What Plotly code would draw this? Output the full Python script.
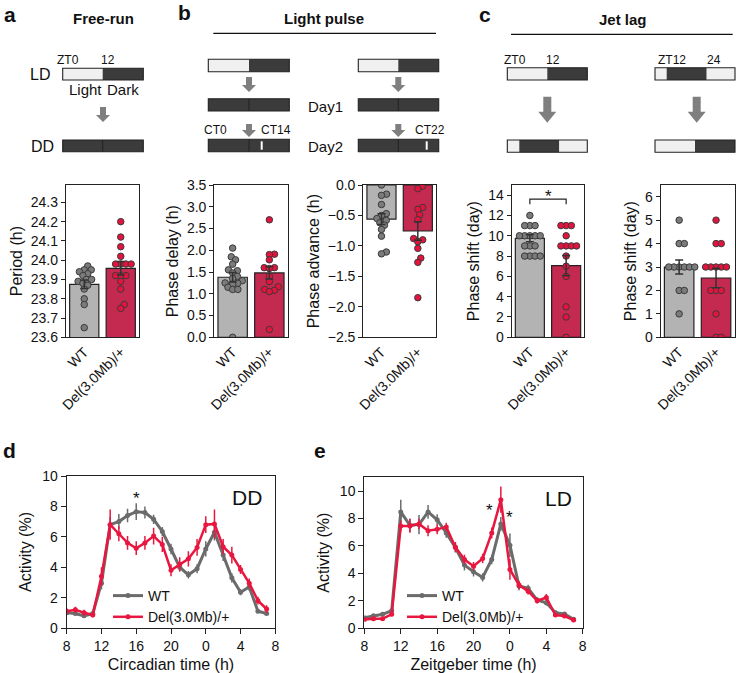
import math
import plotly.graph_objects as go

W, H = 736, 673
FONT = "Liberation Sans, Arial, Helvetica, sans-serif"
AX = "#222222"

# ---------------- data ----------------
groups = ["WT", "Del(3.0Mb)/+"]

# a: free-run period (h)
period_wt = [23.97, 23.95, 23.95, 23.94, 23.93, 23.92, 23.90, 23.90, 23.89, 23.88,
             23.87, 23.85, 23.80, 23.77, 23.65]
period_del = [24.20, 24.12, 24.07, 24.02, 23.98, 23.98, 23.98, 23.98, 23.92, 23.92,
              23.92, 23.89, 23.85, 23.77, 23.75]
period_mean = [23.875, 23.958]
period_sem = [0.022, 0.035]

# b: light pulse, phase delay (h)
delay_wt = [2.05, 1.85, 1.78, 1.68, 1.55, 1.53, 1.48, 1.40, 1.35, 1.30, 1.25, 1.24,
            1.22, 1.15, 1.10, 1.10, 0.0]
delay_del = [2.70, 1.91, 1.90, 1.78, 1.60, 1.60, 1.58, 1.40, 1.28, 1.16, 1.10, 1.08,
             1.05, 0.18]
delay_mean = [1.38, 1.48]
delay_sem = [0.11, 0.14]

# b: light pulse, phase advance (h)
advance_wt = [0.0, -0.15, -0.17, -0.32, -0.47, -0.50, -0.55, -0.58, -0.62, -0.66,
              -0.73, -0.84, -1.10, -1.13]
advance_del = [-0.02, -0.06, -0.37, -0.40, -0.49, -0.57, -0.88, -0.90, -0.93, -1.04,
               -1.20, -1.27, -1.85]
advance_mean = [-0.56, -0.755]
advance_sem = [0.09, 0.15]

# c: jet lag advance (day)
jl1_wt = [12, 11, 11, 11, 10, 10, 10, 10, 10, 9, 9, 9, 8, 8, 8, 8]
jl1_del = [11, 11, 11, 10, 9, 9, 9, 9, 8, 7, 6, 3, 2, 0]
jl1_mean = [9.75, 7.05]
jl1_sem = [0.35, 1.0]

# c: jet lag delay (day)
jl2_wt = [5, 4, 4, 3, 3, 3, 3, 3, 3, 2, 2, 1]
jl2_del = [5, 4, 4, 3, 3, 3, 3, 3, 2, 2, 2, 1, 0, 0]
jl2_mean = [3.0, 2.53]
jl2_sem = [0.3, 0.42]

# d, e: activity profiles (%)
hours = [8, 9, 10, 11, 12, 13, 14, 15, 16, 17, 18, 19, 20, 21, 22, 23, 24, 25, 26,
         27, 28, 29, 30, 31]
hour_tickvals = [8, 12, 16, 20, 24, 28, 32]
hour_ticktext = ["8", "12", "16", "20", "0", "4", "8"]

dd_wt = [1.0, 0.95, 0.8, 0.95, 2.95, 6.8, 7.0, 7.4, 7.65, 7.6, 7.15, 6.35, 5.2, 4.0,
         3.5, 3.9, 5.2, 6.3, 4.8, 3.3, 2.35, 2.7, 1.1, 0.95]
dd_wt_sem = [0.1, 0.1, 0.1, 0.1, 0.4, 0.5, 0.5, 0.45, 0.55, 0.4, 0.3, 0.3, 0.35, 0.3,
             0.25, 0.3, 0.5, 0.55, 0.4, 0.3, 0.2, 0.25, 0.1, 0.1]
dd_del = [1.1, 1.2, 1.0, 0.85, 3.4, 6.8, 6.2, 5.6, 5.25, 5.6, 6.05, 5.5, 3.8, 4.2,
          4.55, 5.3, 6.8, 6.85, 5.35, 4.8, 3.85, 2.95, 1.8, 1.25]
dd_del_sem = [0.2, 0.2, 0.2, 0.15, 0.6, 1.0, 0.5, 0.45, 0.45, 0.45, 0.55, 0.5, 0.4,
              0.45, 0.5, 0.55, 0.55, 0.95, 0.5, 0.55, 0.3, 0.3, 0.25, 0.25]

ld_wt = [0.75, 0.9, 1.0, 1.26, 8.47, 7.5, 7.55, 8.47, 7.9, 6.94, 5.87, 4.59, 4.1, 3.69,
         5.0, 7.6, 6.04, 3.06, 2.9, 2.04, 1.84, 1.12, 1.02, 0.63]
ld_wt_sem = [0.1, 0.1, 0.1, 0.15, 0.9, 0.5, 0.7, 0.5, 0.4, 0.35, 0.35, 0.4, 0.35, 0.3,
             0.35, 0.5, 0.85, 0.3, 0.25, 0.2, 0.2, 0.15, 0.15, 0.1]
ld_del = [0.62, 0.68, 0.68, 1.0, 7.45, 7.45, 7.6, 7.1, 7.2, 7.38, 5.92, 5.0, 4.51, 5.07,
          6.94, 9.37, 4.27, 3.13, 2.69, 1.99, 2.23, 0.95, 0.87, 0.58]
ld_del_sem = [0.1, 0.1, 0.1, 0.15, 0.4, 0.5, 0.4, 0.4, 0.35, 0.3, 0.35, 0.35, 0.3,
              0.35, 0.4, 0.95, 0.75, 0.3, 0.25, 0.2, 0.25, 0.15, 0.12, 0.1]

# ---------------- styles ----------------
BAR_COL = ["#b3b3b3", "#c4294f"]
DOT_COL = ["#7b7b7b", "#e3133e"]
LINE_COL = ["#6b6b6b", "#e8173f"]
LIGHT = "#f0f0f0"
DARK = "#3b3b3b"
ARROW = "#7f7f7f"


def fx(x):
    return x / W


def fy(y):
    return 1 - y / H


def swarm(vals, ppu_y, ppu_x, d=5.2):
    """Beeswarm x-offsets (data units) computed from values."""
    order = sorted(range(len(vals)), key=lambda i: vals[i])
    placed = []
    offs = [0.0] * len(vals)
    for i in order:
        y = vals[i] * ppu_y
        blocks = []
        for (px, py) in placed:
            dy = abs(py - y)
            if dy < d:
                w = math.sqrt(d * d - dy * dy)
                blocks.append((px - w, px + w))
        cands = [0.0] + [b[0] for b in blocks] + [b[1] for b in blocks]
        best = 0.0
        for c in sorted(cands, key=lambda v: (abs(v), -v)):
            if all(not (lo + 1e-6 < c < hi - 1e-6) for lo, hi in blocks):
                best = c
                break
        placed.append((best, y))
        offs[i] = best / ppu_x
    return offs


fig = go.Figure()
layout = {}
annotations = []
shapes = []

boxes = {
    1: (66, 139, 185, 337.3),
    2: (214.3, 287.7, 185, 337.3),
    3: (363.3, 436, 185, 337.3),
    4: (511.7, 584.3, 185, 337.3),
    5: (660.7, 734.5, 185, 337.3),
    6: (66.7, 275.3, 476, 628),
    7: (364.4, 582.7, 477.3, 628),
}

bar_panels = [
    (1, period_wt, period_del, period_mean, period_sem, [23.6, 24.39], 0.1, 23.6, ".1f", "Period (h)"),
    (2, delay_wt, delay_del, delay_mean, delay_sem, [0, 3.5], 0.5, 0, ".1f", "Phase delay (h)"),
    (3, advance_wt, advance_del, advance_mean, advance_sem, [-2.5, 0], 0.5, -2.5, ".1f", "Phase advance (h)"),
    (4, jl1_wt, jl1_del, jl1_mean, jl1_sem, [0, 15], 2, 0, "d", "Phase shift (day)"),
    (5, jl2_wt, jl2_del, jl2_mean, jl2_sem, [0, 6.5], 1, 0, "d", "Phase shift (day)"),
]


def axname(i):
    return ("x" if i == 1 else f"x{i}"), ("y" if i == 1 else f"y{i}")


for (i, wt, dl, mean, sem, yr, dt, t0, fmt, title) in bar_panels:
    L, R, T, B = boxes[i]
    xn, yn = axname(i)
    ppu_y = (B - T) / (yr[1] - yr[0])
    ppu_x = (R - L) / 2.0
    fig.add_trace(go.Bar(x=[0, 1], y=mean, width=0.8, xaxis=xn, yaxis=yn,
                         marker=dict(color=BAR_COL, line=dict(color=AX, width=1.2)),
                         showlegend=False, hoverinfo="skip"))
    for k, vals in enumerate([wt, dl]):
        offs = swarm(vals, ppu_y, ppu_x)
        fig.add_trace(go.Scatter(x=[k + o for o in offs], y=vals, mode="markers",
                                 xaxis=xn, yaxis=yn, showlegend=False,
                                 marker=dict(size=6.5, color=DOT_COL[k],
                                             line=dict(color="#3a3a3a", width=1))))
    fig.add_trace(go.Scatter(x=[0, 1], y=mean, mode="markers", xaxis=xn, yaxis=yn,
                             showlegend=False,
                             marker=dict(size=1, color="rgba(0,0,0,0)"),
                             error_y=dict(type="data", array=sem, color="#333333",
                                          thickness=1.5, width=4)))
    layout["xaxis" if i == 1 else f"xaxis{i}"] = dict(
        domain=[fx(L), fx(R)], range=[-0.5, 1.5], tickvals=[0, 1], ticktext=groups,
        tickangle=-45, showline=True, mirror=True, linecolor=AX, linewidth=1.3,
        ticks="", showgrid=False, zeroline=False, anchor=yn,
        tickfont=dict(size=14, color="#111"))
    layout["yaxis" if i == 1 else f"yaxis{i}"] = dict(
        domain=[fy(B), fy(T)], range=yr, dtick=dt, tick0=t0, tickformat=fmt,
        showline=True, mirror=True, linecolor=AX, linewidth=1.3, ticks="outside",
        ticklen=4, tickwidth=1.3, tickcolor=AX, showgrid=False, zeroline=False,
        anchor=xn, tickfont=dict(size=14, color="#111"),
        title=dict(text=title, font=dict(size=16, color="#111"), standoff=4))

# significance bracket in c (left)
shapes.append(dict(type="path", xref="x4", yref="y4",
                   path="M 0,13.1 L 0,13.6 L 1,13.6 L 1,13.1",
                   line=dict(color=AX, width=1.2)))
annotations.append(dict(text="*", x=0.5, y=13.9, xref="x4", yref="y4", showarrow=False,
                        font=dict(size=17, color="#111")))

# ---------------- d, e activity profiles ----------------
prof = [
    (6, dd_wt, dd_wt_sem, dd_del, dd_del_sem, [0, 10], "Circadian time (h)", "legend"),
    (7, ld_wt, ld_wt_sem, ld_del, ld_del_sem, [0, 11], "Zeitgeber time (h)", "legend2"),
]
for (i, wt, wts, dl, dls, yr, xt, leg) in prof:
    L, R, T, B = boxes[i]
    xn, yn = axname(i)
    for k, (v, s, nm) in enumerate([(wt, wts, "WT"), (dl, dls, "Del(3.0Mb)/+")]):
        fig.add_trace(go.Scatter(x=hours, y=v, mode="lines+markers", name=nm,
                                 xaxis=xn, yaxis=yn, legend=leg,
                                 line=dict(color=LINE_COL[k], width=3 if k == 0 else 2.5),
                                 marker=dict(size=5, color=LINE_COL[k]),
                                 error_y=dict(type="data", array=s, color=LINE_COL[k],
                                              thickness=1.5, width=0)))
    layout[f"xaxis{i}"] = dict(
        domain=[fx(L), fx(R)], range=[8, 32], tickvals=hour_tickvals,
        ticktext=hour_ticktext, showline=True, mirror=True, linecolor=AX,
        linewidth=1.3, ticks="outside", ticklen=5, tickwidth=1.3, tickcolor=AX,
        showgrid=False, zeroline=False, anchor=yn, tickfont=dict(size=14, color="#111"),
        title=dict(text=xt, font=dict(size=16, color="#111"), standoff=6))
    layout[f"yaxis{i}"] = dict(
        domain=[fy(B), fy(T)], range=yr, dtick=2, tick0=0, showline=True, mirror=True,
        linecolor=AX, linewidth=1.3, ticks="outside", ticklen=5, tickwidth=1.3,
        tickcolor=AX, showgrid=False, zeroline=False, anchor=xn,
        tickfont=dict(size=14, color="#111"),
        title=dict(text="Activity (%)", font=dict(size=16, color="#111"), standoff=6))

# E / N / M markers above d
event_hours = [13, 18, 25]
event_labels = ["E", "N", "M"]
fig.add_trace(go.Scatter(x=event_hours, y=[10.43] * 3, mode="markers+text",
                         text=event_labels, textposition="top center",
                         textfont=dict(size=15, color="#111"),
                         marker=dict(symbol="triangle-down", size=10, color="#111"),
                         xaxis="x6", yaxis="y6", cliponaxis=False, showlegend=False))

annotations += [
    dict(text="*", x=16, y=8.5, xref="x6", yref="y6", showarrow=False, font=dict(size=17)),
    dict(text="*", x=21.8, y=8.6, xref="x7", yref="y7", showarrow=False, font=dict(size=17)),
    dict(text="*", x=24.0, y=8.1, xref="x7", yref="y7", showarrow=False, font=dict(size=17)),
]


def ann(text, x, y, size, bold=False, xanchor="center"):
    annotations.append(dict(text=f"<b>{text}</b>" if bold else text, x=fx(x), y=fy(y),
                            xref="paper", yref="paper", xanchor=xanchor, yanchor="middle",
                            showarrow=False, font=dict(size=size, color="#111")))


ann("DD", 246.7, 497, 21)
ann("LD", 558, 498, 21)

# panel letters / titles
ann("a", 10, 14, 21, True)
ann("b", 185, 12, 21, True)
ann("c", 485, 14, 21, True)
ann("d", 9, 451, 21, True)
ann("e", 320, 451, 21, True)
ann("Free-run", 103, 18, 15, True)
ann("Light pulse", 324, 18, 15, True)
ann("Jet lag", 623, 19, 15, True)


# ---------------- schematics ----------------
def rect(x0, y0, x1, y1, fill, lw=1.0, line=AX):
    shapes.append(dict(type="rect", xref="paper", yref="paper", x0=fx(x0), x1=fx(x1),
                       y0=fy(y1), y1=fy(y0), fillcolor=fill,
                       line=dict(color=line, width=lw)))


def daybar(x0, x1, y0, y1, segs, pulse=None):
    for (a, b, col) in segs:
        rect(a, y0, b, y1, col, lw=0)
    if pulse is not None:
        rect(pulse - 1, y0 + 2, pulse + 1, y1 - 2, "#ffffff", lw=0)
    rect(x0, y0, x1, y1, "rgba(0,0,0,0)", lw=1.1)


def vline(x, y0, y1):
    shapes.append(dict(type="line", xref="paper", yref="paper", x0=fx(x), x1=fx(x),
                       y0=fy(y0), y1=fy(y1), line=dict(color="#222", width=1)))


def hline(x0, x1, y):
    shapes.append(dict(type="line", xref="paper", yref="paper", x0=fx(x0), x1=fx(x1),
                       y0=fy(y), y1=fy(y), line=dict(color="#111", width=1.3)))


def arrow(xc, y0, y1, sw, hw, hh):
    pts = [(xc - sw / 2, y0), (xc + sw / 2, y0), (xc + sw / 2, y1 - hh),
           (xc + hw / 2, y1 - hh), (xc, y1), (xc - hw / 2, y1 - hh), (xc - sw / 2, y1 - hh)]
    path = "M " + " L ".join(f"{fx(a):.5f},{fy(b):.5f}" for a, b in pts) + " Z"
    shapes.append(dict(type="path", xref="paper", yref="paper", path=path,
                       fillcolor=ARROW, line=dict(width=0)))


# a
daybar(62.7, 143.3, 68.3, 80, [(62.7, 102.7, LIGHT), (102.7, 143.3, DARK)])
daybar(62.7, 143.3, 140, 151.7, [(62.7, 143.3, DARK)])
vline(102.7, 140, 151.7)
arrow(103, 107, 122, 6, 14, 7)
ann("ZT0", 68, 59.5, 12)
ann("12", 108, 59.5, 12)
ann("LD", 40, 74.5, 16)
ann("DD", 42, 146, 16)
ann("Light", 85, 89.5, 15)
ann("Dark", 123, 89.5, 15)

# b
hline(213.3, 436, 33.3)
for (x0, x1, mid, pulse) in [(208.3, 289.3, 249, 261.7), (358.3, 438.7, 398.3, 426.7)]:
    daybar(x0, x1, 59.3, 71.7, [(x0, mid, LIGHT), (mid, x1, DARK)])
    arrow(mid, 77, 92, 6, 14, 7)
    daybar(x0, x1, 98.7, 111, [(x0, x1, DARK)])
    vline(mid, 98.7, 111)
    arrow(mid, 124, 137, 6, 14, 7)
    daybar(x0, x1, 139.3, 151.7, [(x0, x1, DARK)], pulse=pulse)
    vline(mid, 139.3, 151.7)
ann("Day1", 325, 106, 15)
ann("Day2", 325, 146.5, 15)
ann("CT0", 215, 130.5, 12)
ann("CT14", 276, 130.5, 12)
ann("CT22", 430, 130.5, 12)

# c
hline(511, 732.7, 34.3)
daybar(507.3, 587.3, 67.7, 80, [(507.3, 547.3, LIGHT), (547.3, 587.3, DARK)])
arrow(547.3, 96.7, 122.7, 8, 18, 11)
daybar(507.3, 587.3, 140, 152.3, [(507.3, 519.3, LIGHT), (519.3, 559.3, DARK),
                                  (559.3, 587.3, LIGHT)])
ann("ZT0", 515, 60, 12)
ann("12", 553, 60, 12)
daybar(655, 735, 67.7, 80, [(655, 666.7, LIGHT), (666.7, 706.7, DARK), (706.7, 735, LIGHT)])
arrow(696.7, 96.7, 122.7, 8, 18, 11)
daybar(655, 735, 140, 152.3, [(655, 695, LIGHT), (695, 735, DARK)])
ann("ZT12", 672, 59.5, 12)
ann("24", 713.5, 59.5, 12)

leg_common = dict(bgcolor="rgba(0,0,0,0)", font=dict(size=14, color="#111"),
                  xanchor="left", yanchor="top", tracegroupgap=0, itemwidth=30)
layout["legend"] = dict(x=fx(108), y=fy(580), **leg_common)
layout["legend2"] = dict(x=fx(402), y=fy(580), **leg_common)

fig.update_layout(
    width=W, height=H, margin=dict(l=0, r=0, t=0, b=0, autoexpand=False),
    paper_bgcolor="white", plot_bgcolor="white",
    font=dict(family=FONT, size=14, color="#111"),
    annotations=annotations, shapes=shapes, bargap=0.2, **layout)

fig.write_html("out.html", config={"displayModeBar": False},
               post_script="document.body.style.margin='0';document.body.style.padding='0';"
                           "document.documentElement.style.overflow='hidden';")
